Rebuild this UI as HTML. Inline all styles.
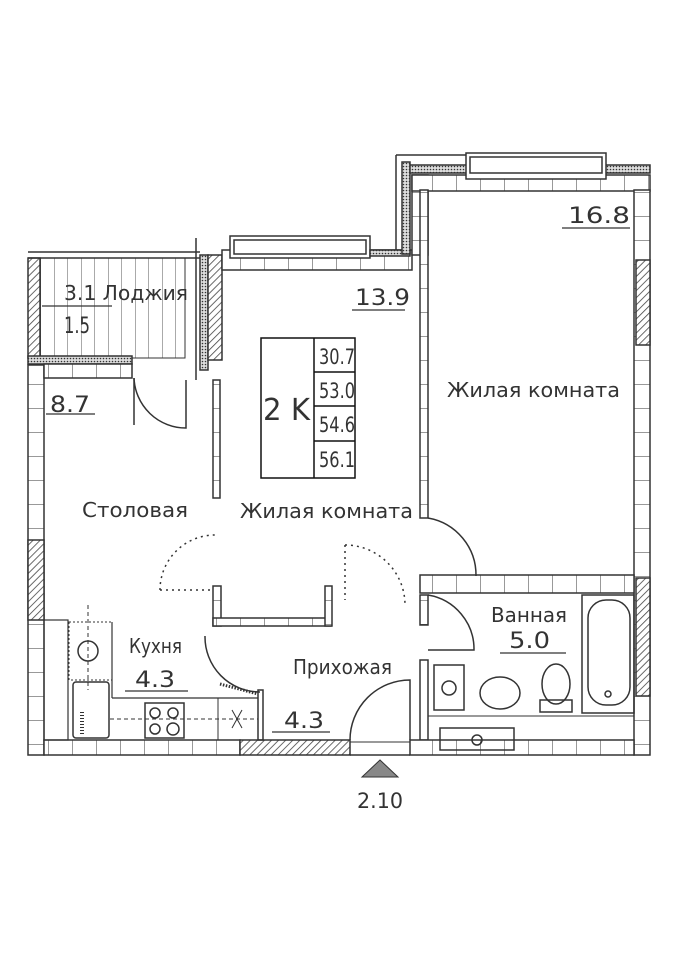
<!DOCTYPE html>
<html><head><meta charset="utf-8"><style>
html,body{margin:0;padding:0;background:#fff}
svg{display:block}
text{font-family:"DejaVu Sans","Liberation Sans",sans-serif;fill:#333}
</style></head><body>
<svg width="682" height="960" viewBox="0 0 682 960" xmlns="http://www.w3.org/2000/svg">
<defs>
<pattern id="h" width="5" height="5" patternUnits="userSpaceOnUse" patternTransform="rotate(45)">
<rect width="5" height="5" fill="#fff"/><line x1="0" y1="0" x2="0" y2="5" stroke="#444" stroke-width="1.6"/></pattern>
<pattern id="d" width="3" height="3" patternUnits="userSpaceOnUse"><rect width="3" height="3" fill="#ddd"/><circle cx="1.5" cy="1.5" r="0.8" fill="#333"/></pattern>
<pattern id="bv" width="16" height="24" patternUnits="userSpaceOnUse"><rect width="16" height="24" fill="#fff"/><line x1="0" y1="0" x2="16" y2="0" stroke="#555" stroke-width="1.2"/></pattern>
<pattern id="bh" width="24" height="16" patternUnits="userSpaceOnUse"><rect width="24" height="16" fill="#fff"/><line x1="0" y1="0" x2="0" y2="16" stroke="#555" stroke-width="1.2"/></pattern>
<pattern id="ls" width="13.5" height="10" patternUnits="userSpaceOnUse"><line x1="0" y1="0" x2="0" y2="10" stroke="#555" stroke-width="1"/></pattern>
</defs>
<g stroke="#333" stroke-width="1.5" fill="none">
<rect x="28" y="365" width="16" height="390" fill="url(#bv)"/>
<rect x="28" y="540" width="16" height="80" fill="url(#h)"/>
<rect x="30" y="258" width="155" height="100" fill="url(#ls)" stroke-width="1"/>
<rect x="28" y="258" width="12" height="100" fill="url(#h)"/>
<line x1="28" y1="252" x2="200" y2="252"/><line x1="28" y1="258" x2="200" y2="258"/>
<rect x="28" y="356" width="104" height="8" fill="url(#d)"/>
<rect x="44" y="364" width="88" height="14" fill="url(#bh)"/>
<rect x="200" y="255" width="8" height="115" fill="url(#d)"/>
<rect x="208" y="255" width="14" height="105" fill="url(#h)"/>
<line x1="196" y1="238" x2="196" y2="380"/>
<rect x="213" y="380" width="7" height="118" fill="url(#bv)"/>
<rect x="222" y="250" width="190" height="20" fill="url(#bh)"/>
<rect x="230" y="236" width="140" height="22" fill="#fff"/>
<rect x="234" y="240" width="132" height="14"/>
<rect x="370" y="250" width="40" height="6" fill="url(#d)"/>
<rect x="402" y="162" width="8" height="92" fill="url(#d)"/>
<line x1="396" y1="155" x2="396" y2="250"/>
<rect x="412" y="175" width="16" height="80" fill="url(#bv)"/>
<rect x="412" y="175" width="238" height="16" fill="url(#bh)"/>
<rect x="410" y="165" width="240" height="8" fill="url(#d)"/>
<rect x="466" y="153" width="140" height="26" fill="#fff"/>
<rect x="470" y="157" width="132" height="16"/>
<line x1="396" y1="155" x2="466" y2="155"/>
<rect x="634" y="190" width="16" height="565" fill="url(#bv)"/>
<rect x="636" y="260" width="14" height="85" fill="url(#h)"/>
<rect x="636" y="578" width="14" height="118" fill="url(#h)"/>
<rect x="420" y="190" width="8" height="328" fill="url(#bv)"/>
<rect x="420" y="575" width="214" height="18" fill="url(#bh)"/>
<rect x="420" y="595" width="8" height="30" fill="url(#bv)"/>
<rect x="420" y="660" width="8" height="80"/>
<rect x="213" y="586" width="8" height="40" fill="url(#bv)"/>
<rect x="213" y="618" width="118" height="8" fill="url(#bh)"/>
<rect x="325" y="586" width="7" height="40" fill="url(#bv)"/>
<!-- bottom wall -->
<rect x="44" y="740" width="196" height="15" fill="url(#bh)"/>
<rect x="240" y="740" width="110" height="15" fill="url(#h)"/>
<line x1="350" y1="755" x2="410" y2="755"/><line x1="350" y1="742" x2="410" y2="742" stroke-width="1"/>
<rect x="410" y="740" width="224" height="15" fill="url(#bh)"/>
<!-- doors -->
<path d="M134 378 L134 425"/><path d="M134 378 A52 52 0 0 0 186 428 L186 380"/>
<path d="M428 518 A58 58 0 0 1 476 576"/>
<path d="M428 595 A55 55 0 0 1 474 650 L428 650"/>
<path d="M350 740 A60 60 0 0 1 410 680 L410 740"/>
<path d="M205 636 A55 55 0 0 0 260 692"/>
<line x1="220" y1="684" x2="258" y2="694" stroke-width="3" stroke-dasharray="1.5 1.5"/>
<rect x="258" y="690" width="5" height="50"/>
<path d="M160 590 A55 55 0 0 1 215 535" stroke-dasharray="2 4"/>
<line x1="160" y1="590" x2="212" y2="590" stroke-dasharray="2 4"/>
<path d="M345 545 A60 60 0 0 1 405 605" stroke-dasharray="2 4"/>
<line x1="345" y1="545" x2="345" y2="600" stroke-dasharray="2 4"/>
<!-- kitchen -->
<rect x="44" y="620" width="24" height="120" stroke-width="1.2"/>
<rect x="69" y="622" width="43" height="58" stroke-width="1" stroke-dasharray="2 2"/>
<line x1="112" y1="622" x2="112" y2="698" stroke-width="1.2"/>
<line x1="112" y1="698" x2="258" y2="698" stroke-width="1.2"/>
<line x1="218" y1="698" x2="218" y2="740" stroke-width="1"/>
<circle cx="88" cy="651" r="10"/>
<rect x="73" y="682" width="36" height="56" rx="3"/>
<line x1="82" y1="712" x2="82" y2="734" stroke-width="4" stroke-dasharray="1 2"/>
<rect x="145" y="703" width="39" height="35"/>
<circle cx="155" cy="713" r="5"/><circle cx="173" cy="713" r="5"/><circle cx="155" cy="729" r="5"/><circle cx="173" cy="729" r="6"/>
<line x1="232" y1="710" x2="242" y2="728" stroke-width="1"/><line x1="242" y1="710" x2="232" y2="728" stroke-width="1"/>
<line x1="88" y1="605" x2="88" y2="690" stroke-dasharray="4 3" stroke-width="1"/>
<line x1="110" y1="719" x2="258" y2="719" stroke-dasharray="4 3" stroke-width="1"/>
<!-- bathroom -->
<rect x="582" y="595" width="52" height="118"/>
<rect x="588" y="600" width="42" height="105" rx="18"/>
<circle cx="608" cy="694" r="3"/>
<rect x="434" y="665" width="30" height="45"/><circle cx="449" cy="688" r="7"/>
<ellipse cx="500" cy="693" rx="20" ry="16"/>
<ellipse cx="556" cy="684" rx="14" ry="20"/>
<rect x="540" y="700" width="32" height="12"/>
<line x1="428" y1="716" x2="634" y2="716" stroke-width="1"/>
<rect x="440" y="728" width="74" height="22"/>
<circle cx="477" cy="740" r="5"/>
</g>
<polygon points="380,760 362,777 398,777" fill="#888" stroke="#333" stroke-width="1"/>
<g stroke="#111" stroke-width="1.5" fill="none">
<rect x="261" y="338" width="94" height="140"/>
<line x1="314" y1="338" x2="314" y2="478"/>
<line x1="314" y1="372" x2="355" y2="372"/><line x1="314" y1="406" x2="355" y2="406"/><line x1="314" y1="441" x2="355" y2="441"/>
</g>
<g font-size="21" lengthAdjust="spacingAndGlyphs">
<text x="319" y="364" textLength="36" lengthAdjust="spacingAndGlyphs">30.7</text>
<text x="319" y="398" textLength="36" lengthAdjust="spacingAndGlyphs">53.0</text>
<text x="319" y="432" textLength="36" lengthAdjust="spacingAndGlyphs">54.6</text>
<text x="319" y="467" textLength="36" lengthAdjust="spacingAndGlyphs">56.1</text>
<text x="263" y="420" font-size="30" textLength="47" lengthAdjust="spacingAndGlyphs">2 K</text>
<text x="357" y="808" textLength="46" lengthAdjust="spacingAndGlyphs">2.10</text>
</g>
<g font-size="20">
<text x="64" y="300" textLength="124" lengthAdjust="spacingAndGlyphs">3.1 Лоджия</text>
<text x="64" y="333" font-size="22" textLength="26" lengthAdjust="spacingAndGlyphs">1.5</text>
<text x="355" y="305" font-size="22" textLength="55" lengthAdjust="spacingAndGlyphs">13.9</text>
<text x="568" y="223" font-size="22" textLength="62" lengthAdjust="spacingAndGlyphs">16.8</text>
<text x="50" y="412" font-size="22" textLength="40" lengthAdjust="spacingAndGlyphs">8.7</text>
<text x="447" y="397" textLength="173" lengthAdjust="spacingAndGlyphs">Жилая комната</text>
<text x="82" y="517" textLength="106" lengthAdjust="spacingAndGlyphs">Столовая</text>
<text x="240" y="518" textLength="173" lengthAdjust="spacingAndGlyphs">Жилая комната</text>
<text x="129" y="653" textLength="53" lengthAdjust="spacingAndGlyphs">Кухня</text>
<text x="135" y="687" font-size="22" textLength="40" lengthAdjust="spacingAndGlyphs">4.3</text>
<text x="293" y="674" textLength="99" lengthAdjust="spacingAndGlyphs">Прихожая</text>
<text x="284" y="728" font-size="22" textLength="40" lengthAdjust="spacingAndGlyphs">4.3</text>
<text x="491" y="622" textLength="76" lengthAdjust="spacingAndGlyphs">Ванная</text>
<text x="509" y="648" font-size="22" textLength="41" lengthAdjust="spacingAndGlyphs">5.0</text>
</g>
<g stroke="#333" stroke-width="1.3">
<line x1="42" y1="306" x2="112" y2="306"/><line x1="352" y1="310" x2="405" y2="310"/>
<line x1="562" y1="228" x2="630" y2="228"/><line x1="46" y1="414" x2="95" y2="414"/>
<line x1="125" y1="691" x2="188" y2="691"/><line x1="272" y1="732" x2="330" y2="732"/>
<line x1="500" y1="653" x2="566" y2="653"/>
</g>
</svg>
</body></html>
